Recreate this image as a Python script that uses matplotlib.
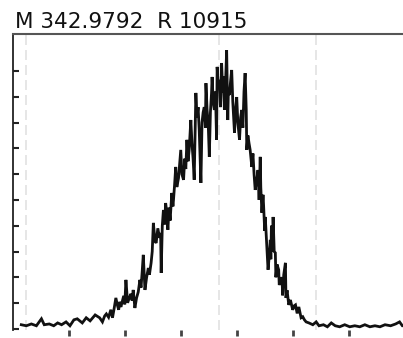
import matplotlib
matplotlib.use("Agg")
import matplotlib.pyplot as plt

# Trace (x in tick units, intensity in %)
pos = [1.5, 2.4, 3.3, 4.2, 5.1, 5.6, 6.5, 7.3, 8.0, 8.7, 9.5, 10.2, 10.9, 11.5,
       12.4, 13.1, 13.8, 14.7,
       15.5, 16.0, 16.4, 16.7, 17.1, 17.5, 17.8, 18.1, 18.4, 18.7, 18.9, 19.1,
       19.3, 19.6, 19.8, 20.0, 20.2, 20.5, 20.8, 21.1, 21.3, 21.5, 21.8, 22.1,
       22.4, 22.7, 22.9, 23.1, 23.3, 23.6, 23.9, 24.2, 24.4, 24.7, 24.9,
       25.1, 25.4, 25.6, 25.9, 26.2, 26.4, 26.5, 26.7, 26.9, 27.1, 27.3, 27.5,
       27.7, 27.9, 28.1, 28.4, 28.6, 28.7, 28.9, 29.1, 29.3, 29.6, 29.8, 30.0,
       30.2, 30.5, 30.7, 30.9, 31.1, 31.3, 31.5, 31.8, 32.0, 32.2, 32.4, 32.6,
       32.7, 32.9, 33.1, 33.3, 33.6, 33.8, 34.0, 34.2, 34.4, 34.5, 34.7, 34.9,
       35.1, 35.3, 35.5, 35.6, 35.8, 36.0, 36.2, 36.4, 36.5, 36.7, 36.9, 37.1,
       37.3, 37.5, 37.6, 37.8, 38.0, 38.2, 38.4, 38.5, 38.7, 38.9, 39.1, 39.3,
       39.6, 39.8, 40.0, 40.2, 40.5, 40.7, 40.9, 41.1, 41.3, 41.5, 41.7, 41.8,
       42.0, 42.2, 42.4, 42.7, 42.9, 43.1, 43.3,
       43.6, 43.8, 44.0, 44.2, 44.3, 44.5, 44.7, 44.8, 45.0, 45.1, 45.3, 45.5,
       45.6, 45.8, 46.0, 46.1, 46.2, 46.4, 46.5, 46.7, 46.9, 47.0, 47.2, 47.5,
       47.6, 47.8, 48.1, 48.2, 48.4, 48.7, 48.8,
       49.0, 49.3, 49.6, 50.0, 50.3, 50.5, 50.8, 51.1, 51.5, 51.8, 52.1, 52.4,
       52.9, 53.6, 54.2, 54.7, 55.5, 56.2, 56.9, 57.6, 58.4, 59.3, 60.2, 61.1,
       62.0, 62.9, 63.8, 64.7, 65.6, 66.5, 67.5, 68.4, 69.1, 69.6, 70.5, 71.1]
intensity = [1.6, 1.2, 1.9, 1.2, 3.9, 1.6, 1.9, 1.2, 2.3, 1.6, 2.7, 1.2, 3.5, 3.9,
             2.3, 4.3, 3.1, 5.4,
             4.3, 2.7, 5.0, 5.8, 4.5, 7.4, 4.3, 8.0, 12.0, 9.0, 7.4, 10.5,
             8.5, 11.0, 12.8, 9.5, 19.0, 10.1, 12.0, 13.6, 11.0, 15.1, 8.1, 12.0,
             14.3, 19.0, 16.0, 22.0, 28.7, 15.1, 20.0, 23.6, 21.0, 25.6, 30.0,
             41.1, 34.0, 33.3, 39.0, 35.3, 37.2, 21.7, 40.0, 46.1, 40.5, 48.8, 45.0,
             38.4, 47.0, 42.0, 52.7, 47.5, 50.0, 56.0, 62.8, 55.0, 58.5, 64.0, 69.4,
             60.0, 57.8, 66.0, 62.0, 73.3, 65.0, 69.4, 81.0, 72.0, 66.0, 57.8, 80.0,
             91.5, 82.0, 86.0, 77.1, 56.6, 80.0, 84.0, 86.0, 78.0, 95.3, 85.0, 80.0,
             66.7, 84.0, 91.5, 97.7, 88.0, 84.9, 92.0, 73.3, 101.6, 95.0, 96.5, 86.0,
             103.1, 91.5, 98.0, 84.9, 95.0, 108.1, 81.0, 92.0, 90.7, 96.0, 100.4, 88.0,
             76.0, 85.0, 89.9, 80.0, 73.3, 82.0, 84.9, 78.0, 92.0, 99.2, 85.0, 69.4,
             75.0, 72.0, 69.4, 62.8, 68.0, 60.0, 53.9,
             58.0, 61.6, 50.0, 66.7, 55.0, 45.0, 52.0, 48.0, 38.0, 43.4, 35.0, 26.7,
             22.9, 28.0, 34.5, 27.0, 40.0, 30.0, 43.4, 30.0, 29.5, 20.0, 25.0, 22.9,
             17.0, 18.6, 20.0, 13.0, 20.9, 25.6, 12.0,
             15.0, 9.3, 11.2, 7.4, 9.0, 9.3, 6.0, 8.5, 4.3, 4.7, 3.5, 2.7,
             2.3, 1.6, 2.7, 1.2, 1.6, 0.8, 2.3, 1.2, 0.8, 1.6, 0.8, 1.2,
             0.8, 1.6, 0.8, 1.2, 0.8, 1.6, 1.2, 1.9, 2.7, 1.2, 1.2, 0.8]

xticks = [10, 20, 30, 40, 50, 60, 70]
yticks = [0, 10, 20, 30, 40, 50, 60, 70, 80, 90, 100]
guides = [2.4, 36.9, 54.2]

fig = plt.figure(figsize=(4.03, 3.38), dpi=100)
ax = fig.add_axes([0.032, 0.024, 0.99, 0.875])

for g in guides:
    ax.axvline(g, color="#e2e2e2", linewidth=1.2, linestyle=(0, (6, 3)), zorder=0)

ax.plot(pos, intensity, color="#111111", linewidth=2.0, solid_joinstyle="miter")

ax.set_xlim(0, 71.3)
ax.set_ylim(-0.4, 114.3)
ax.set_xticks(xticks)
ax.set_xticklabels([])
ax.set_yticks(yticks)
ax.set_yticklabels([])
ax.tick_params(axis="y", direction="in", length=4, width=1.5, color="#222222")
ax.tick_params(axis="x", direction="out", length=4, width=2, color="#444444")

ax.spines["right"].set_visible(False)
ax.spines["bottom"].set_visible(False)
ax.spines["left"].set_linewidth(1.3)
ax.spines["left"].set_color("#222222")
ax.spines["top"].set_linewidth(1.5)
ax.spines["top"].set_color("#555555")

fig.text(15 / 403, 1 - 28 / 338, "M 342.9792  R 10915", fontsize=15.5,
         family="DejaVu Sans", color="#111111", va="baseline", ha="left")

fig.savefig("out.png", dpi=100)
